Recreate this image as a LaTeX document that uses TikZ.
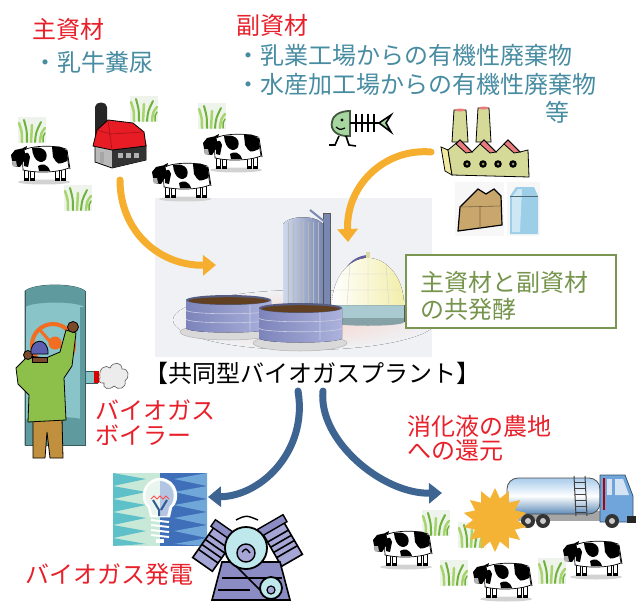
\documentclass[tikz,border=0pt]{standalone}
\usepackage{fontspec}
\newfontfamily\jp{Noto Sans CJK JP}
\usetikzlibrary{arrows.meta,shapes.geometric,calc}

\definecolor{redtxt}{RGB}{232,32,42}
\definecolor{tealtxt}{RGB}{72,140,162}
\definecolor{greentxt}{RGB}{118,148,76}
\definecolor{boxgreen}{RGB}{122,150,80}
\definecolor{orangearrow}{RGB}{245,174,46}
\definecolor{bluearrow}{RGB}{62,100,145}
\definecolor{grassbg}{RGB}{238,244,236}
\definecolor{grassdark}{RGB}{110,178,60}
\definecolor{grasslight}{RGB}{168,212,110}
\definecolor{plantbg}{RGB}{239,241,244}
\definecolor{pinkbase}{RGB}{248,212,204}
\definecolor{tankblue}{RGB}{124,132,186}
\definecolor{tanklight}{RGB}{172,178,220}
\definecolor{siloblue}{RGB}{176,192,222}
\definecolor{silodark}{RGB}{120,136,178}
\definecolor{domecream}{RGB}{242,238,170}
\definecolor{domebase}{RGB}{168,202,208}
\definecolor{barnred}{RGB}{232,28,36}
\definecolor{fishgreen}{RGB}{168,214,160}
\definecolor{factorybody}{RGB}{214,218,152}
\definecolor{factoryside}{RGB}{240,234,160}
\definecolor{roofpink}{RGB}{232,124,124}
\definecolor{cheese}{RGB}{200,166,108}
\definecolor{milkblue}{RGB}{156,206,232}
\definecolor{boilerteal}{RGB}{136,196,200}
\definecolor{boilerdark}{RGB}{94,154,158}
\definecolor{wheelorange}{RGB}{242,108,34}
\definecolor{coatgreen}{RGB}{141,192,75}
\definecolor{pantsbrown}{RGB}{192,144,62}
\definecolor{skin}{RGB}{123,74,42}
\definecolor{hatblue}{RGB}{90,95,176}
\definecolor{tilegreen}{RGB}{200,232,216}
\definecolor{tileteal}{RGB}{94,192,200}
\definecolor{tileblue}{RGB}{63,111,184}
\definecolor{tilesky}{RGB}{111,167,216}
\definecolor{enginegray}{RGB}{166,166,214}
\definecolor{enginedark}{RGB}{140,140,196}
\definecolor{enginecyan}{RGB}{190,232,236}
\definecolor{truckblue}{RGB}{111,165,218}
\definecolor{tanklt}{RGB}{168,204,236}
\definecolor{starorange}{RGB}{245,179,53}

\tikzset{
  lbl/.style={font=\jp\fontsize{24}{25}\selectfont, inner sep=0pt, anchor=base west},
  flowarrow/.style={line width=7pt, line cap=round, -{Triangle[length=13pt,width=20pt]}},
  outline/.style={draw=black, line width=0.8pt},
  cow/.pic={
    \fill[gray!35] (33,42) ellipse [x radius=26, y radius=2.5];
    \foreach \lx in {13,19,44,50}{
      \draw[fill=white, line width=0.6pt] (\lx,25) rectangle ++(4.5,15);
      \fill (\lx,38) rectangle ++(4.5,3);
    }
    \draw[fill=white, line width=0.7pt] (11,11) .. controls (20,5) and (45,5) .. (55,9)
      -- (58,28) .. controls (45,33) and (25,33) .. (12,30) -- cycle;
    \fill (21,8) .. controls (30,6) and (38,10) .. (35,19) .. controls (31,25) and (22,22) .. (21,8) -- cycle;
    \fill (41,7) .. controls (49,6) .. (56,11) -- (56,21) .. controls (47,25) .. (42,17) -- cycle;
    \fill (27,26) .. controls (31,23) and (37,24) .. (39,31) -- (28,31) -- cycle;
    \fill (13,14) .. controls (17,12) .. (19,17) -- (17,27) -- (13,26) -- cycle;
    \fill (0,15) -- (4,10) -- (13,8) -- (15,18) -- (9,27) -- (2,26) -- cycle;
    \fill[gray!60] (1,21) -- (5,21) -- (6,26) -- (2,26) -- cycle;
    \fill (12,8) -- (16,6) -- (15,10) -- cycle;
    \draw[line width=0.8pt] (56,10) -- (59,29);
  },
  grass/.pic={
    \fill[grassbg] (0,0) rectangle (28,26);
    \draw[grasslight, line width=2.5pt, line cap=round] (4,25) .. controls (4,15) .. (1,6);
    \draw[grassdark, line width=2pt, line cap=round] (9,25) .. controls (9,14) .. (6,3);
    \draw[grasslight, line width=2.5pt, line cap=round] (13,25) -- (14,8);
    \draw[grassdark, line width=2pt, line cap=round] (17,25) .. controls (18,15) .. (23,5);
    \draw[grasslight, line width=2.5pt, line cap=round] (22,25) .. controls (23,16) .. (27,11);
    \draw[grassdark, line width=1.5pt, line cap=round] (25,25) .. controls (25,19) .. (27,16);
  },
  cylhead/.pic={
    \draw[black, line width=1.6pt, fill=enginegray] (-12,-20) rectangle (12,20);
    \draw[black, line width=1.4pt, fill=enginedark] (-15,-24) rectangle (15,-16);
    \foreach \k in {-8,-2,4,10}{\draw[black, line width=1.6pt] (-12,\k) -- (12,\k);}
  }
}

\begin{document}
\begin{tikzpicture}[x=1pt,y=-1pt]
\useasboundingbox (0,0) rectangle (642,602);

% ---------- biogas plant ----------
\fill[plantbg] (155,198) rectangle (432,357);
\fill[inner color=pinkbase, outer color=plantbg] (305,320) ellipse [x radius=132, y radius=30];
% silo with elevator
\fill[silodark] (323,213) rectangle (330,306);
\draw[gray!70!black, line width=0.5pt] (323,213) rectangle (330,306);
\draw[silodark, line width=2pt] (310,210) -- (330,226);
\fill[left color=siloblue!60!white, right color=silodark] (283,306) -- (283,224)
  .. controls (290,215) and (316,215) .. (323,224) -- (323,306) -- cycle;
\foreach \x in {288,293,...,318}{\draw[gray!55, line width=0.4pt] (\x,222) -- (\x,306);}
% gas holder dome
\draw[gray!75!blue, line width=4pt] (337,318) .. controls (337,272) and (352,258) .. (368,257);
\fill[domebase] (332,305) rectangle (404,322);
\fill[domebase!80!black] (332,322) .. controls (332,327) and (404,327) .. (404,322) -- (404,318) -- (332,318) -- cycle;
\draw[gray!70!black, line width=0.5pt] (332,305) -- (332,322) (404,305) -- (404,322);
\fill[left color=white, right color=domecream] (332,305) .. controls (332,279) and (348,258) .. (368,258)
  .. controls (388,258) and (404,279) .. (404,305) -- cycle;
\draw[gray!35, line width=0.4pt] (335,290) -- (401,290) (340,274) -- (396,274)
  (368,258) -- (368,305) (350,264) -- (347,305) (386,264) -- (389,305);
\fill[domecream!80!gray] (366,252) rectangle (370,258);
% left digester
\fill[gray!30] (228,332) ellipse [x radius=48, y radius=8];
\draw[gray!60, line width=0.5pt] (228,332) ellipse [x radius=48, y radius=8];
\fill[left color=tankblue, right color=tanklight] (186,300) -- (186,328)
  .. controls (186,334) and (271,334) .. (271,328) -- (271,300) -- cycle;
\draw[white!60!tankblue, line width=0.6pt] (186,310) .. controls (186,315) and (271,315) .. (271,310)
  (186,319) .. controls (186,324) and (271,324) .. (271,319) (250,302) -- (250,330);
\fill[tankblue!70!black] (228.5,300) ellipse [x radius=42.5, y radius=5];
\fill[brown!50!black] (228.5,300.8) ellipse [x radius=40, y radius=3.6];
% front digester
\fill[gray!30] (300,343) ellipse [x radius=47, y radius=8];
\draw[gray!60, line width=0.5pt] (300,343) ellipse [x radius=47, y radius=8];
\fill[left color=tankblue, right color=tanklight] (259,308) -- (259,338)
  .. controls (259,344) and (342,344) .. (342,338) -- (342,308) -- cycle;
\draw[white!60!tankblue, line width=0.6pt] (259,318) .. controls (259,323) and (342,323) .. (342,318)
  (259,328) .. controls (259,333) and (342,333) .. (342,328) (320,310) -- (320,340);
\fill[tankblue!70!black] (300.5,308) ellipse [x radius=41.5, y radius=5];
\fill[brown!50!black] (300.5,308.8) ellipse [x radius=39, y radius=3.6];

% ---------- fermentation label ----------
\node[draw=boxgreen, line width=1.5pt, fill=white, minimum width=210pt, minimum height=73pt,
  inner sep=0pt, anchor=north west] (fermbox) at (405,254) {};
\node[lbl, text=greentxt] (ferm1) at (420,291) {主資材と副資材};
\node[lbl, text=greentxt] (ferm2) at (420,318) {の共発酵};

% ---------- farm: grass, barn, cows ----------
\pic at (18,117) {grass};
\pic at (130,96) {grass};
\pic at (198,103) {grass};
\pic at (64,185) {grass};
% barn
\fill[black!85] (95,150) -- (95,107) .. controls (95,101) and (107,101) .. (107,107) -- (107,150) -- cycle;
\draw[fill=gray!55, line width=0.8pt] (95,145) -- (95,162) -- (112,168) -- (146,160) -- (146,145) -- cycle;
\fill[black!80] (112,150) -- (146,143) -- (146,160) -- (112,168) -- cycle;
\foreach \wx in {118,126,134}{\fill[gray!60] (\wx,153) rectangle ++(5,5);}
\fill[gray!70] (100,152) rectangle (104,163);
\draw[fill=barnred, line width=0.8pt] (93,146) -- (97,130) -- (108,120) -- (133,123) -- (144,132) -- (146,146)
  -- (112,150) -- cycle;
\draw[barnred!70!black, line width=0.6pt] (108,120) -- (112,150) (97,130) -- (111,134) -- (144,132);
\pic at (11,140) {cow};
\pic at (152,157) {cow};
\pic at (203,128) {cow};

% ---------- fish ----------
\draw[fishgreen!40!black, line width=1.8pt, fill=fishgreen] (350,111) -- (350,136)
  .. controls (336,137) and (330,129) .. (332,122) .. controls (333,114) and (342,111) .. (350,111) -- cycle;
\fill (342,120) circle (1.6);
\draw[line width=1.2pt] (336,127) .. controls (340,130) .. (345,128);
\draw[line width=2pt] (350,123) -- (379,123);
\foreach \rx in {356,362,368,374}{\draw[line width=1.8pt] (\rx,114) -- (\rx,132);}
\draw[line width=1.6pt, fill=fishgreen] (379,123) -- (391,115) -- (386,123) -- (391,132) -- cycle;
\draw[line width=1.6pt] (339,136) -- (335,145) -- (329,145) (346,136) -- (349,145) -- (356,146);

% ---------- factory, cheese, milk ----------
\draw[outline, fill=factorybody] (452,142) -- (454,110) -- (466,110) -- (468,142) -- cycle;
\draw[outline, fill=factorybody] (476,142) -- (478,108) -- (489,108) -- (491,142) -- cycle;
\fill[roofpink] (460,110) ellipse [x radius=5, y radius=1.5] (483.5,108) ellipse [x radius=5, y radius=1.5];
\draw[outline, fill=factoryside] (441,147) -- (448,150) -- (452,175) -- (445,171) -- cycle;
\draw[outline, fill=factorybody] (448,150) -- (460,140) -- (472,152) -- (484,140) -- (496,152) -- (508,140)
  -- (520,152) -- (528,150) -- (529,177) -- (452,175) -- cycle;
\foreach \px in {460,484,508}{
  \draw[outline, fill=roofpink] (\px,140) -- (\px+12,152) -- (\px+6,153) -- (\px-4,144) -- cycle;}
\foreach \wx in {467,483,498,513}{
  \fill (\wx,164) circle (3.8); \fill[factorybody!70!black] (\wx,164) circle (1.5);}
\fill[gray!6] (455,182) rectangle (504,236);
\draw[line width=1.2pt, fill=cheese] (458,231) -- (460,207) -- (478,189) -- (486,194) -- (494,189)
  -- (501,196) -- (502,225) -- cycle;
\draw[cheese!60!black, line width=0.6pt] (460,207) -- (501,206) (480,206) -- (480,228);
\fill[gray!6] (507,182) rectangle (540,236);
\fill[milkblue] (510,234) -- (510,196) -- (516,187) -- (534,187) -- (538,196) -- (538,234) -- cycle;
\fill[milkblue!50!white] (512,232) -- (512,197) -- (518,189) -- (522,189) -- (520,232) -- cycle;
\draw[milkblue!50!black, line width=0.5pt] (510,196) -- (538,196);

% ---------- boiler with operator ----------
\draw[fill=boilerteal, draw=boilerdark!60!black, line width=0.8pt] (25,445) -- (25,291)
  .. controls (35,283) and (75,283) .. (85,291) -- (85,445) -- cycle;
\fill[boilerdark] (25,291) .. controls (35,283) and (75,283) .. (85,291) -- (85,307)
  .. controls (75,301) and (35,301) .. (25,307) -- cycle;
\fill[boilerdark] (25,420) .. controls (35,416) and (75,416) .. (85,420) -- (85,445) -- (25,445) -- cycle;
\fill[boilerdark] (80,307) rectangle (85,420);
\draw[boilerdark!60!black, line width=0.8pt] (25,291) -- (25,445) -- (85,445) -- (85,291);
\draw[boilerdark!60!black, line width=1pt, fill=boilerteal] (85,371) rectangle (97,383);
\fill[red!85!black] (94,371) rectangle (99,383);
\draw[gray!70!black, line width=0.6pt, fill=gray!15]
  (100,378) .. controls (98,368) and (106,364) .. (110,368) .. controls (113,361) and (122,362) .. (122,369)
  .. controls (129,368) and (130,378) .. (125,381) .. controls (127,388) and (118,391) .. (114,386)
  .. controls (109,391) and (102,388) .. (104,383) .. controls (99,384) and (98,380) .. (100,378) -- cycle;
\draw[wheelorange, line width=4pt] (53,345) circle (21);
\draw[wheelorange, line width=3pt] (53,345) -- (40,330) (53,345) -- (73,350);
\fill[wheelorange] (55,343) circle (6.5);
\draw[outline, fill=pantsbrown] (33,418) -- (62,418) -- (63,458) -- (50,458) -- (47,432) -- (45,458) -- (33,458) -- cycle;
\draw[outline, fill=coatgreen] (16,368) -- (28,356) -- (46,358) -- (60,352) -- (66,330) -- (76,333)
  -- (72,366) -- (64,378) -- (66,420) -- (28,422) -- (29,395) -- (18,384) -- cycle;
\draw[outline, fill=skin] (73,327) circle (5.5);
\draw[outline, fill=skin] (28,355) circle (4.5);
\draw[outline, fill=skin] (32,357) rectangle (47,362);
\draw[outline, fill=hatblue] (31,354) .. controls (29,338) and (49,336) .. (48,354) -- cycle;

% ---------- light bulb tile ----------
\fill[tilegreen] (113,473) rectangle (160,546);
\fill[tileteal] (113,473) -- (146,479) -- (113,486) -- (146,492) -- (113,499) -- (146,505) -- (113,512)
  -- (146,518) -- (113,525) -- (146,531) -- (113,538) -- (146,544) -- (113,546) -- cycle;
\fill[tileblue] (160,473) rectangle (207,546);
\fill[tilesky] (207,473) -- (174,479) -- (207,486) -- (174,492) -- (207,499) -- (174,505) -- (207,512)
  -- (174,518) -- (207,525) -- (174,531) -- (207,538) -- (174,544) -- (207,546) -- cycle;
\draw[white, line width=2.5pt, fill=tilegreen!40!white] (151,516) -- (149,507)
  .. controls (140,500) and (143,480) .. (160,479) .. controls (177,480) and (180,500) .. (171,507)
  -- (169,516) -- cycle;
\fill[tileblue!40!white] (160,481) .. controls (175,482) and (177,500) .. (169,507) -- (167,516) -- (160,516) -- cycle;
\draw[red!70, line width=1pt] (151,499) -- (154,496) -- (157,499) -- (160,496) -- (163,499) -- (166,496) -- (169,499);
\draw[tileblue!80!black, line width=2pt] (153,500) -- (159,510) -- (159,516) (167,500) -- (161,510);
\foreach \sy in {520,525,530,535}{\draw[white, line width=2pt] (151,\sy) -- (169,\sy+2);}
\fill[white] (156,539) rectangle (164,543);

% ---------- engine ----------
\pic[rotate=-35] at (214,548) {cylhead};
\pic[rotate=30] at (282,543) {cylhead};
\draw[black, line width=1.6pt, fill=enginedark] (222,562) -- (280,562) -- (290,600) -- (212,600) -- cycle;
\draw[black, line width=1.2pt] (222,578) -- (282,578) (218,590) -- (250,590);
\draw[black, line width=1.8pt, fill=enginecyan] (246,548) circle (21);
\draw[black, line width=1.4pt, fill=enginegray] (246,553) circle (9);
\draw[black, line width=1.4pt] (242,552) .. controls (246,548) .. (250,553);
\draw[black, line width=1.6pt] (236,566) -- (262,592);
\draw[black, line width=1.8pt, fill=enginecyan] (271,588) circle (11);
\draw[black, line width=1.2pt, fill=enginegray] (271,590) circle (4);
\draw[black, line width=1.4pt] (236,520) .. controls (246,515) .. (258,520);

% ---------- field with tanker ----------
\pic at (422,510) {grass};
\pic at (458,522) {grass};
\pic at (440,560) {grass};
\pic at (538,558) {grass};
\fill[gray!70] (518,511) rectangle (633,521);
\draw[gray!60!black, line width=0.8pt, top color=tanklt, bottom color=truckblue!85!black, middle color=white,
  rounded corners=11pt] (507,478) rectangle (600,514);
\draw[gray!50!black, line width=1pt] (574,476) -- (576,516) (585,476) -- (587,516);
\foreach \ry in {482,488,...,512}{\draw[gray!50!black, line width=0.8pt] (575,\ry) -- (586,\ry);}
\draw[truckblue!50!black, line width=0.8pt, fill=truckblue] (600,475) -- (625,475) -- (633,496)
  -- (633,522) -- (600,522) -- cycle;
\fill[red!70!black] (603,478) rectangle (605,510);
\fill[white!70!truckblue] (607,479) rectangle (612,495);
\fill[white!70!truckblue] (615,479) -- (623,479) -- (629,495) -- (615,495) -- cycle;
\fill[black!85] (627,516) rectangle (636,523);
\foreach \wx in {528,543,612}{
  \fill[black!80] (\wx,521) circle (7); \fill[gray!40] (\wx,521) circle (3);}
\node[star, star points=14, star point ratio=1.45, fill=starorange, minimum size=64pt, inner sep=0pt]
  (splash) at (495,520) {};
\pic at (373,525) {cow};
\pic at (473,557) {cow};
\pic at (563,535) {cow};

% ---------- flow arrows ----------
\coordinate (farmout) at (120,180);
\coordinate (plantinA) at (216,265);
\coordinate (factoryout) at (431,152);
\coordinate (plantinB) at (348,242);
\coordinate (plantoutA) at (298,391);
\coordinate (powerin) at (208,497);
\coordinate (plantoutB) at (323,391);
\coordinate (fieldin) at (442,493);
\draw[flowarrow, orangearrow] (farmout) .. controls (120,232) and (160,266) .. (plantinA);
\draw[flowarrow, orangearrow] (factoryout) .. controls (385,148) and (346,185) .. (plantinB);
\draw[flowarrow, bluearrow] (plantoutA) .. controls (308,450) and (262,496) .. (powerin);
\draw[flowarrow, bluearrow] (plantoutB) .. controls (318,440) and (382,494) .. (fieldin);

% ---------- labels ----------
\node[lbl, text=redtxt] (mainmat) at (32,39) {主資材};
\node[lbl, text=tealtxt] (cowdung) at (33,71) {・乳牛糞尿};
\node[lbl, text=redtxt] (submat) at (236,35) {副資材};
\node[lbl, text=tealtxt] (dairy) at (236,64) {・乳業工場からの有機性廃棄物};
\node[lbl, text=tealtxt] (fishery) at (236,93) {・水産加工場からの有機性廃棄物};
\node[lbl, text=tealtxt] (etc) at (545,121) {等};
\node[lbl, anchor=base] (plantname) at (312,382) {【共同型バイオガスプラント】};
\node[lbl, text=redtxt] (boiler1) at (95,419) {バイオガス};
\node[lbl, text=redtxt] (boiler2) at (95,444) {ボイラー};
\node[lbl, text=redtxt] (digest1) at (407,435) {消化液の農地};
\node[lbl, text=redtxt] (digest2) at (407,459) {への還元};
\node[lbl, text=redtxt] (power) at (25,583) {バイオガス発電};
\end{tikzpicture}
\end{document}
